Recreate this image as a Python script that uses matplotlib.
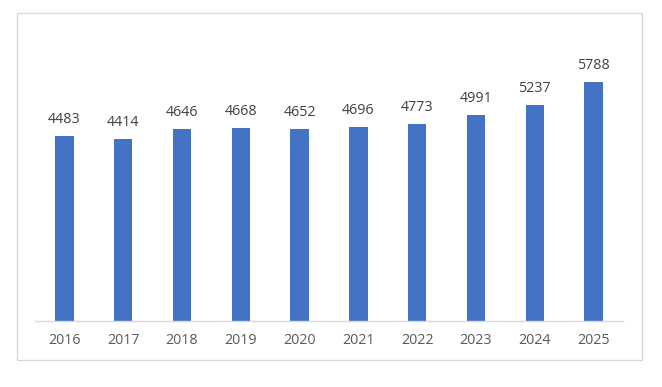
import matplotlib
matplotlib.use("Agg")
import matplotlib.pyplot as plt
from matplotlib.patches import Rectangle

years = ["2016", "2017", "2018", "2019", "2020", "2021", "2022", "2023", "2024", "2025"]
values = [4483, 4414, 4646, 4668, 4652, 4696, 4773, 4991, 5237, 5788]

BLUE = "#4472C4"
LABEL = "#404040"
TICK = "#595959"
W, H = 662, 387

plt.rcParams["font.family"] = ["Open Sans", "DejaVu Sans"]

fig = plt.figure(figsize=(W / 100, H / 100), dpi=100)
fig.patches.append(Rectangle((17 / W, 1 - 360 / H), 625 / W, 347 / H,
                             transform=fig.transFigure, fill=False,
                             edgecolor="#d9d9d9", lw=1))

ax = fig.add_axes([35 / W, 1 - 321 / H, 588 / W, 289 / H])
x = range(len(years))
bars = ax.bar(x, values, width=0.31, color=BLUE)
for b, v in zip(bars, values):
    ax.annotate(f"{v}", (b.get_x() + b.get_width() / 2, v), xytext=(0, 6.5),
                textcoords="offset points", ha="center", va="bottom",
                fontsize=10.3, color=LABEL)

ax.set_xlim(-0.5, len(years) - 0.5)
ax.set_ylim(0, 7000)
ax.set_xticks(list(x))
ax.set_xticklabels(years, fontsize=10.3, color=TICK)
ax.tick_params(axis="x", length=0, pad=9)
ax.set_yticks([])
for s in ("top", "right", "left"):
    ax.spines[s].set_visible(False)
ax.spines["bottom"].set_color("#d9d9d9")
ax.spines["bottom"].set_linewidth(1)

fig.savefig("out.png", dpi=100)
